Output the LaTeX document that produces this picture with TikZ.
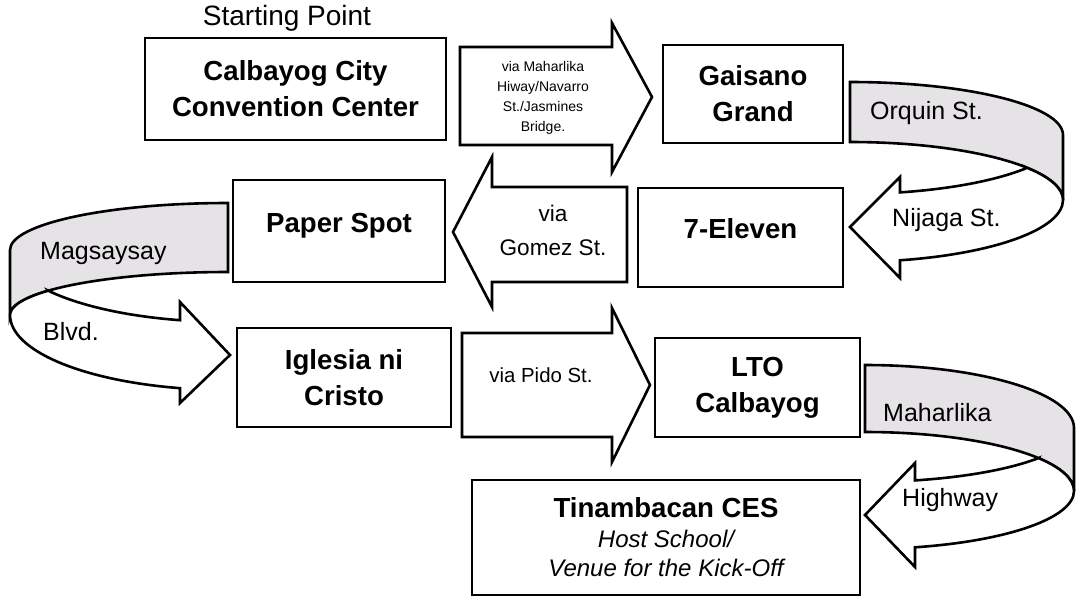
\documentclass[tikz,border=0pt]{standalone}
\usepackage{fontspec}
\setmainfont{Liberation Sans}
\definecolor{bandfill}{RGB}{229,227,229}
\tikzset{
  spot/.style={draw, line width=2.6pt, align=center, inner sep=0pt,
    font=\bfseries\fontsize{27.6}{36}\selectfont},
  blockarrow/.style={draw, line width=2.6pt, fill=white, line join=miter},
  band/.style={draw, line width=2.6pt, fill=bandfill, line join=miter},
  street/.style={anchor=west, inner sep=0pt, font=\fontsize{25}{30}\selectfont},
  via/.style={align=center, inner sep=0pt}
}
\begin{document}
\begin{tikzpicture}
        [x=1pt,y=1pt]
        \useasboundingbox (0,0) rectangle (1076,-603);

        \draw[band] (850,-82) arc[start angle=90, end angle=0, x radius=213pt, y radius=53pt]
          -- (1063,-200) arc[start angle=0, end angle=90, x radius=213pt, y radius=58pt] -- cycle;
        \draw[blockarrow] (1027.1,-167.8) arc[start angle=33.75, end angle=0, x radius=213pt, y radius=58pt]
          arc[start angle=0, end angle=-76.43, x radius=213pt, y radius=62pt]
          -- (900,-278) -- (850,-227) -- (900,-177) -- (900,-192.4)
          arc[start angle=-76.43, end angle=-33.75, x radius=213pt, y radius=59pt] -- cycle;

        \draw[band] (228,-203) arc[start angle=90, end angle=180, x radius=218pt, y radius=47pt]
          -- (10,-315) arc[start angle=180, end angle=90, x radius=218pt, y radius=43pt] -- cycle;
        \draw[blockarrow] (48.2,-290.7) arc[start angle=145.58, end angle=180, x radius=218pt, y radius=43pt]
          arc[start angle=180, end angle=257.28, x radius=218pt, y radius=75pt]
          -- (180,-403) -- (230,-355) -- (180,-302) -- (180,-320.2)
          arc[start angle=257.28, end angle=214.42, x radius=218pt, y radius=72pt] -- cycle;

        \draw[band] (865,-365) arc[start angle=90, end angle=0, x radius=209pt, y radius=63pt]
          -- (1074,-491) arc[start angle=0, end angle=90, x radius=209pt, y radius=59pt] -- cycle;
        \draw[blockarrow] (1038.5,-458.1) arc[start angle=33.88, end angle=0, x radius=209pt, y radius=59pt]
          arc[start angle=0, end angle=-76.16, x radius=209pt, y radius=58pt]
          -- (915,-567) -- (865,-515) -- (915,-463) -- (915,-480.4)
          arc[start angle=-76.16, end angle=-33.88, x radius=209pt, y radius=54pt] -- cycle;

        \draw[blockarrow] (460,-47) -- (612,-47) -- (612,-23) -- (652,-97)
          -- (612,-172) -- (612,-145) -- (460,-145) -- cycle;
        \draw[blockarrow] (627,-187) -- (492,-187) -- (492,-157) -- (453,-232)
          -- (492,-307) -- (492,-282) -- (627,-282) -- cycle;
        \draw[blockarrow] (462,-333) -- (612,-333) -- (612,-308) -- (650,-385)
          -- (612,-462) -- (612,-437) -- (462,-437) -- cycle;

        \node (start) at (287,-18) {\fontsize{28}{34}\selectfont Starting Point};
        \node[spot, minimum width=301pt, minimum height=102pt] (conv) at (295.5,-89)
          {Calbayog City\\Convention Center};
        \node[spot, minimum width=180pt, minimum height=98pt] (gais) at (753,-94)
          {Gaisano\\Grand};
        \node[spot, minimum width=205pt, minimum height=99pt, text height=20pt, text depth=18pt]
          (seven) at (740.5,-237.5) {7-Eleven};
        \node[spot, minimum width=212pt, minimum height=102pt, text height=20pt, text depth=18pt]
          (paper) at (339,-231) {Paper Spot};
        \node[spot, minimum width=214pt, minimum height=99pt] (iglesia) at (344,-377.5)
          {Iglesia ni\\Cristo};
        \node[spot, minimum width=205pt, minimum height=99pt] (lto) at (757.5,-387.5)
          {LTO\\Calbayog};
        \node[spot, minimum width=388pt, minimum height=115pt,
          font=\fontsize{24}{29}\selectfont] (tina) at (666,-537.5)
          {{\bfseries\fontsize{27.6}{30}\selectfont Tinambacan CES}\\[1pt]
           \itshape Host School/\\ \itshape Venue for the Kick-Off};

        \node[via, font=\fontsize{14}{20}\selectfont] (viaA) at (543,-98)
          {via Maharlika\\Hiway/Navarro\\St./Jasmines\\Bridge.};
        \node[via, font=\fontsize{22.6}{34}\selectfont] (viaB) at (553,-230)
          {via\\Gomez St.};
        \node[via, font=\fontsize{20.4}{26}\selectfont] (viaC) at (541,-375)
          {via Pido St.};

        \node[street] (orquin) at (870,-113) {Orquin St.};
        \node[street] (nijaga) at (892,-220) {Nijaga St.};
        \node[street] (magsay) at (40,-253) {Magsaysay};
        \node[street] (blvd) at (43,-332) {Blvd.};
        \node[street] (mahar) at (883,-413) {Maharlika};
        \node[street] (hiway) at (902,-500) {Highway};
      \end{tikzpicture}
\end{document}
